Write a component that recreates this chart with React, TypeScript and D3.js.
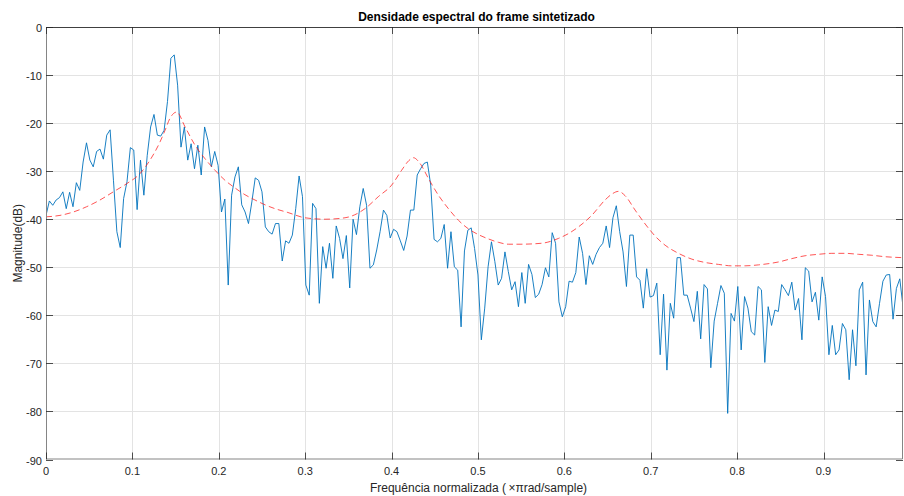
import * as d3 from 'd3';
import React, { useEffect, useRef } from 'react';

const W = 904;
const H = 496;
const margin = { top: 27, right: 1, bottom: 36.5, left: 46 };

const title = 'Densidade espectral do frame sintetizado';
const xLabel = 'Frequência normalizada (\u2009×πrad/sample)';
const yLabel = 'Magnitude(dB)';

const xTicks = [0, 0.1, 0.2, 0.3, 0.4, 0.5, 0.6, 0.7, 0.8, 0.9];
const yTicks = [-90, -80, -70, -60, -50, -40, -30, -20, -10, 0];
const xMax = 0.992;
const nBins = 256;

// spectrum of the synthesized frame, one value per bin (dB)
const spectrumDb = [
  -39.2, -36.2, -37.1, -36.0, -35.5, -34.3, -37.8, -34.4, -37.4, -32.4,
  -34.0, -28.1, -24.1, -27.7, -29.1, -25.9, -25.4, -27.5, -22.5, -21.4,
  -32.0, -42.6, -45.9, -35.7, -32.2, -25.1, -25.6, -38.0, -27.7, -35.0,
  -26.7, -20.8, -18.2, -22.5, -22.7, -21.5, -15.5, -6.5, -5.8, -12.1,
  -25.0, -20.8, -27.7, -24.3, -29.5, -24.6, -30.8, -20.8, -23.6, -29.1,
  -25.9, -28.8, -38.5, -35.8, -53.7, -35.0, -31.2, -29.1, -37.0, -38.5,
  -40.9, -36.4, -31.4, -31.9, -34.3, -41.6, -42.6, -43.1, -40.9, -40.9,
  -48.7, -44.5, -45.0, -43.3, -37.8, -31.0, -35.3, -53.7, -55.8, -36.7,
  -37.8, -57.5, -45.7, -50.2, -45.0, -52.3, -41.4, -44.0, -48.2, -43.4,
  -54.3, -40.0, -43.2, -37.4, -33.6, -37.1, -50.2, -49.5, -46.4, -42.6,
  -38.1, -39.2, -43.9, -42.1, -42.6, -44.5, -46.5, -43.5, -38.1, -38.1,
  -30.8, -29.5, -28.4, -28.1, -32.9, -44.2, -44.7, -44.0, -41.1, -50.2,
  -42.6, -49.9, -50.6, -62.4, -46.6, -42.3, -41.8, -46.1, -51.6, -65.1,
  -58.5, -49.9, -44.7, -48.8, -53.7, -52.3, -46.8, -50.9, -54.7, -53.0,
  -58.2, -51.1, -57.5, -49.4, -51.5, -56.3, -55.6, -53.6, -50.1, -52.0,
  -42.8, -45.0, -57.2, -60.3, -58.2, -52.9, -53.1, -51.1, -43.7, -47.1,
  -53.6, -47.6, -49.4, -47.3, -45.9, -45.0, -41.4, -45.9, -39.7, -37.2,
  -42.6, -46.8, -54.0, -43.3, -43.3, -52.0, -52.7, -58.5, -50.3, -56.2,
  -55.9, -53.3, -68.2, -55.6, -71.4, -57.5, -60.6, -48.0, -48.0, -55.8,
  -55.8, -58.5, -61.3, -55.0, -64.9, -53.6, -54.5, -70.9, -61.2, -57.5,
  -53.8, -55.4, -80.4, -59.6, -61.2, -54.0, -67.2, -56.1, -58.5, -63.4,
  -64.1, -54.0, -54.7, -69.8, -58.2, -62.1, -58.9, -59.2, -53.6, -54.7,
  -55.9, -53.1, -58.9, -56.5, -65.1, -50.1, -50.8, -57.2, -55.2, -61.0,
  -52.0, -56.1, -68.2, -62.1, -68.2, -67.2, -61.7, -63.0, -73.4, -63.0,
  -70.5, -54.7, -53.1, -72.4, -56.8, -61.3, -62.4, -57.5, -52.9, -51.6,
  -51.5, -60.8, -54.4, -52.4, -58.5, -61.3
];

// LPC envelope (red dashed), read at these frequencies
const envFreq = [
  0, 0.0162, 0.0316, 0.047, 0.0625, 0.0779, 0.0934, 0.1088, 0.1204, 0.132,
  0.1378, 0.1435, 0.1513, 0.161, 0.1725, 0.184, 0.1956, 0.2072, 0.2188, 0.2303,
  0.2419, 0.2535, 0.265, 0.28, 0.2998, 0.323, 0.3461, 0.3693, 0.3847, 0.4001,
  0.4117, 0.42, 0.4253, 0.433, 0.4426, 0.4542, 0.4658, 0.4773, 0.4889, 0.5005,
  0.5121, 0.5236, 0.5352, 0.5487, 0.5738, 0.5931, 0.6047, 0.6163, 0.6317, 0.6471,
  0.6556, 0.6626, 0.6703, 0.6819, 0.6915, 0.6993, 0.705, 0.7166, 0.7321, 0.7475,
  0.7629, 0.7784, 0.7938, 0.8092, 0.8247, 0.8382, 0.8478, 0.8632, 0.8787, 0.8941,
  0.9096, 0.925, 0.9404, 0.9559, 0.9713, 0.9925
];
const envDb = [
  -39.5, -39.2, -38.5, -37.4, -36.0, -34.3, -32.6, -30.5, -27.7, -23.9,
  -21.5, -19.0, -17.7, -20.8, -24.6, -27.4, -29.8, -31.9, -33.5, -34.9,
  -36.0, -37.0, -37.8, -38.6, -39.7, -40.0, -39.7, -37.8, -35.3, -32.9,
  -29.8, -27.8, -27.2, -28.4, -31.5, -35.0, -37.8, -40.2, -42.0, -43.2,
  -44.1, -44.8, -45.2, -45.2, -45.0, -44.0, -43.0, -41.6, -39.2, -36.0,
  -34.7, -34.2, -35.1, -38.1, -40.5, -42.3, -43.5, -45.4, -47.1, -48.3,
  -49.0, -49.4, -49.7, -49.7, -49.5, -49.2, -48.9, -48.2, -47.6, -47.3,
  -47.1, -47.1, -47.3, -47.5, -47.8, -48.0
];

const FONT = '"Liberation Sans", Arial, Helvetica, sans-serif';

export default function App() {
  const ref = useRef<SVGSVGElement>(null);

  useEffect(() => {
    const svg = d3.select(ref.current);
    svg.selectAll('*').remove();

    const x0 = margin.left, x1 = W - margin.right;
    const y0 = margin.top, y1 = H - margin.bottom;

    const x = d3.scaleLinear().domain([0, xMax]).range([x0, x1]);
    const y = d3.scaleLinear().domain([-90, 0]).range([y1, y0]);

    svg.append('rect').attr('width', W).attr('height', H).attr('fill', '#fff');

    // grid
    const grid = svg.append('g').attr('stroke', '#e3e3e3').attr('stroke-width', 1);
    xTicks.filter(t => t > 0).forEach(t => {
      grid.append('line')
        .attr('x1', Math.round(x(t)) + 0.5).attr('x2', Math.round(x(t)) + 0.5)
        .attr('y1', y0).attr('y2', y1);
    });
    yTicks.filter(t => t > -90 && t < 0).forEach(t => {
      grid.append('line')
        .attr('x1', x0).attr('x2', x1)
        .attr('y1', Math.round(y(t)) + 0.5).attr('y2', Math.round(y(t)) + 0.5);
    });

    svg.append('clipPath').attr('id', 'plot-clip')
      .append('rect').attr('x', x0).attr('y', y0).attr('width', x1 - x0).attr('height', y1 - y0);

    const plot = svg.append('g').attr('clip-path', 'url(#plot-clip)');

    const spectrum = d3.line<number>()
      .x((d, i) => x(i / nBins))
      .y(d => y(d));

    plot.append('path')
      .datum(spectrumDb)
      .attr('fill', 'none')
      .attr('stroke', '#0072BD')
      .attr('stroke-opacity', 0.9)
      .attr('stroke-width', 1)
      .attr('stroke-linejoin', 'round')
      .attr('d', spectrum);

    const envelope = d3.line<number>()
      .curve(d3.curveMonotoneX)
      .x((d, i) => x(envFreq[i]))
      .y(d => y(d));

    plot.append('path')
      .datum(envDb)
      .attr('fill', 'none')
      .attr('stroke', '#ff2020')
      .attr('stroke-opacity', 0.85)
      .attr('stroke-width', 0.9)
      .attr('stroke-dasharray', '6,3.5')
      .attr('d', envelope);

    // axes box: left/bottom/right gray, top darker like the reference
    const box = svg.append('g').attr('fill', 'none').attr('stroke-width', 1);
    box.append('path')
      .attr('d', `M${x0 + 0.5},${y0} V${y1 - 0.5} H${x1 - 0.5} V${y0}`)
      .attr('stroke', '#858585');
    box.append('line')
      .attr('x1', x0).attr('x2', x1).attr('y1', y0 + 0.5).attr('y2', y0 + 0.5)
      .attr('stroke', '#404040');

    // ticks pointing inward on all four sides
    const tk = svg.append('g').attr('stroke', '#262626').attr('stroke-width', 0.8);
    const tl = 7;
    xTicks.forEach(t => {
      const px = Math.round(x(t)) + 0.5;
      tk.append('line').attr('x1', px).attr('x2', px).attr('y1', y1).attr('y2', y1 - tl);
      tk.append('line').attr('x1', px).attr('x2', px).attr('y1', y0).attr('y2', y0 + tl);
    });
    yTicks.forEach(t => {
      const py = Math.round(y(t)) + 0.5;
      tk.append('line').attr('x1', x0).attr('x2', x0 + tl).attr('y1', py).attr('y2', py);
      tk.append('line').attr('x1', x1).attr('x2', x1 - tl).attr('y1', py).attr('y2', py);
    });

    const labels = svg.append('g')
      .attr('font-family', FONT).attr('font-size', 11).attr('fill', '#262626');
    xTicks.forEach(t => {
      labels.append('text')
        .attr('x', x(t)).attr('y', y1 + 15.5)
        .attr('text-anchor', 'middle')
        .text(String(t));
    });
    yTicks.forEach(t => {
      labels.append('text')
        .attr('x', x0 - 4).attr('y', y(t) + 5)
        .attr('text-anchor', 'end')
        .text(String(t));
    });

    svg.append('text')
      .attr('x', (x0 + x1) / 2 + 2).attr('y', 20.5)
      .attr('text-anchor', 'middle')
      .attr('font-family', FONT).attr('font-size', 12).attr('font-weight', 'bold')
      .attr('fill', '#000')
      .text(title);

    svg.append('text')
      .attr('x', (x0 + x1) / 2 + 4).attr('y', 492)
      .attr('text-anchor', 'middle')
      .attr('font-family', FONT).attr('font-size', 12)
      .attr('fill', '#262626')
      .text(xLabel);

    svg.append('text')
      .attr('transform', `translate(22,${(y0 + y1) / 2}) rotate(-90)`)
      .attr('text-anchor', 'middle')
      .attr('font-family', FONT).attr('font-size', 12)
      .attr('fill', '#262626')
      .text(yLabel);
  }, []);

  return (
    <svg
      ref={ref}
      width={W}
      height={H}
      style={{ position: 'absolute', left: 0, top: 0, display: 'block' }}
    />
  );
}
